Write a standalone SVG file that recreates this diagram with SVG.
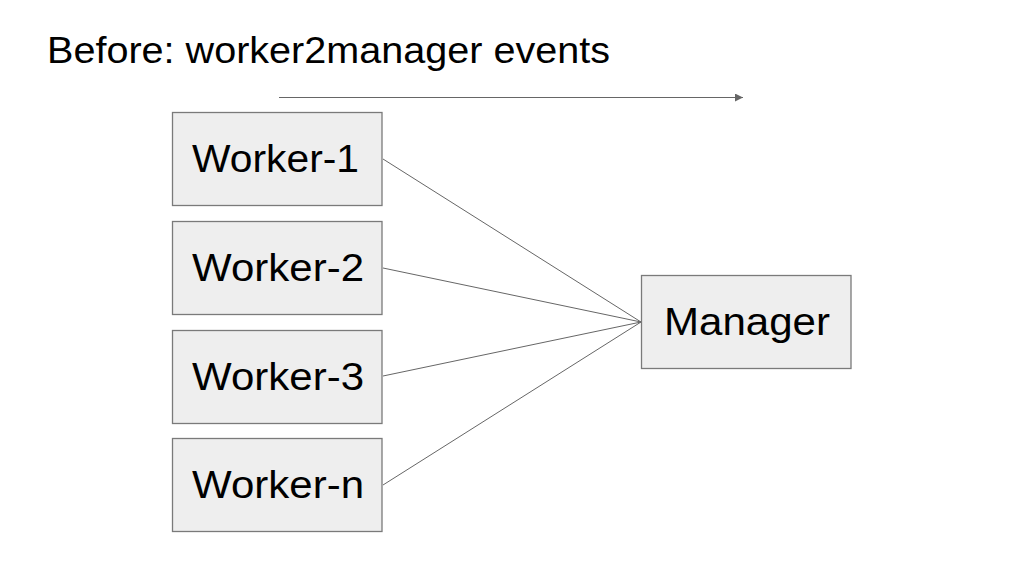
<svg xmlns="http://www.w3.org/2000/svg" width="1024" height="576" viewBox="0 0 1024 576">
<style>
.box{fill:#eeeeee;stroke:#7a7a7a;stroke-width:1.3}
.lbl{font-family:"Liberation Sans",Arial,sans-serif;font-size:38px;fill:#000}
.ttl{font-family:"Liberation Sans",Arial,sans-serif;font-size:37px;fill:#000}
.con{stroke:#666;stroke-width:1;fill:none}
</style>
<defs>
<marker id="ah" viewBox="0 0 10 10" refX="10" refY="5" markerWidth="8" markerHeight="8" markerUnits="userSpaceOnUse" orient="auto">
<path d="M0,0 L10,5 L0,10 z" fill="#666"/>
</marker>
</defs>
<rect width="1024" height="576" fill="#fff"/>
<text class="ttl" x="47" y="63" textLength="563" lengthAdjust="spacingAndGlyphs">Before: worker2manager events</text>
<g id="connectors">
<line class="con" x1="279" y1="97.5" x2="743" y2="97.5" stroke-width="1.5" marker-end="url(#ah)"/>
<line class="con" x1="383" y1="159" x2="641" y2="322"/>
<line class="con" x1="383" y1="268" x2="641" y2="322"/>
<line class="con" x1="383" y1="376" x2="641" y2="322"/>
<line class="con" x1="383" y1="485" x2="641" y2="322"/>
</g>
<g id="worker1"><rect class="box" x="172.5" y="112.5" width="209.5" height="93"/><text class="lbl" x="192" y="172" textLength="167" lengthAdjust="spacingAndGlyphs">Worker-1</text></g>
<g id="worker2"><rect class="box" x="172.5" y="221.5" width="209.5" height="93"/><text class="lbl" x="192" y="281" textLength="172" lengthAdjust="spacingAndGlyphs">Worker-2</text></g>
<g id="worker3"><rect class="box" x="172.5" y="330.5" width="209.5" height="93"/><text class="lbl" x="192" y="390" textLength="172" lengthAdjust="spacingAndGlyphs">Worker-3</text></g>
<g id="workern"><rect class="box" x="172.5" y="438.5" width="209.5" height="93"/><text class="lbl" x="192" y="498" textLength="172" lengthAdjust="spacingAndGlyphs">Worker-n</text></g>
<g id="manager"><rect class="box" x="641.5" y="275.5" width="209.5" height="93"/><text class="lbl" x="664" y="335" textLength="166" lengthAdjust="spacingAndGlyphs">Manager</text></g>
</svg>
